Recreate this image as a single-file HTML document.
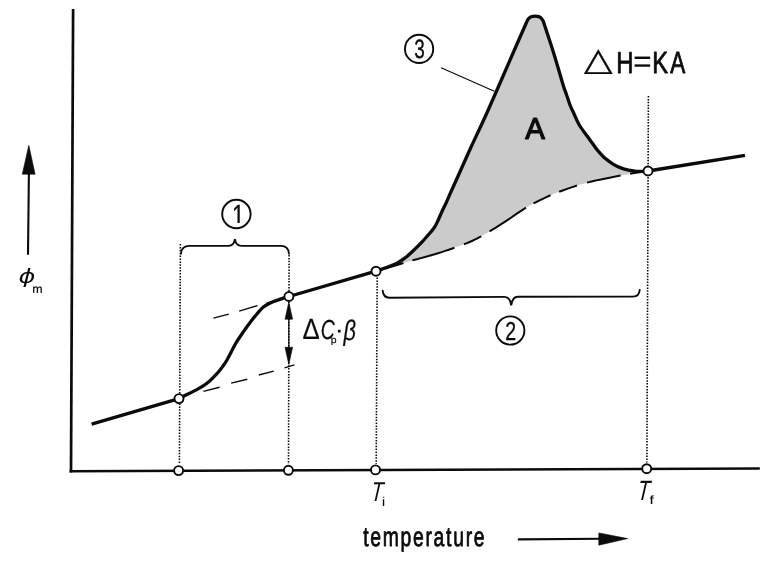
<!DOCTYPE html>
<html lang="en">
<head>
<meta charset="utf-8">
<title>DSC curve</title>
<style>
html,body{margin:0;padding:0;background:#fff;}
body{width:779px;height:564px;overflow:hidden;}
svg{display:block;}
text{font-family:"Liberation Sans",sans-serif;fill:#0b0b0b;text-rendering:geometricPrecision;}
</style>
</head>
<body>
<svg width="779" height="564" viewBox="0 0 779 564">
<rect width="779" height="564" fill="#fff"/>

<!-- shaded peak area -->
<path d="M376,271.2 C377.1,270.8 379.1,270.2 382.6,268.9 C386.1,267.6 393.1,265.1 397.0,263.2 C400.9,261.2 403.1,259.4 406.0,257.2 C408.9,255.0 411.6,252.3 414.2,249.8 C416.8,247.3 419.3,244.8 421.6,242.4 C423.9,240.0 425.9,237.6 428.0,235.2 C430.1,232.8 432.3,230.4 434.0,228.0 C435.7,225.6 436.6,223.4 438.0,220.5 C439.4,217.6 440.8,214.0 442.3,210.8 C443.8,207.6 445.3,204.7 446.8,201.3 C448.3,197.9 449.9,194.1 451.5,190.5 C453.1,186.9 453.2,187.0 456.3,180.0 C459.4,173.0 465.1,160.2 470.4,148.5 C475.7,136.8 480.9,126.4 488.2,110.0 C495.5,93.6 507.9,64.8 514.4,50.0 C520.8,35.2 525.0,25.8 527.1,21.0 C527.4,20.6 527.9,19.3 528.6,18.6 C529.3,17.9 530.2,17.1 531.3,16.7 C532.4,16.3 533.8,16.2 535.0,16.2 C536.2,16.2 537.6,16.2 538.7,16.6 C539.8,17.0 540.6,17.6 541.4,18.3 C542.1,19.0 542.9,20.6 543.2,21.0 C544.5,25.0 548.6,37.4 551.1,45.1 C553.6,52.8 556.0,60.8 558.0,67.4 C560.0,74.1 561.7,80.4 563.1,85.0 C564.5,89.6 565.5,91.7 566.6,95.0 C567.8,98.3 568.8,101.9 570.0,105.0 C571.2,108.1 572.4,110.2 573.9,113.5 C575.4,116.8 577.1,121.2 579.3,125.0 C581.5,128.8 584.9,133.0 587.3,136.3 C589.7,139.6 591.8,142.4 593.5,144.8 C595.2,147.2 595.8,148.3 597.8,150.6 C599.8,152.9 602.8,156.3 605.4,158.6 C608.0,160.8 610.5,162.5 613.1,164.1 C615.7,165.7 618.2,166.9 620.8,167.9 C623.4,168.9 625.9,169.6 628.5,170.2 C631.1,170.8 633.8,171.1 636.2,171.3 C638.6,171.5 641.0,171.5 643.0,171.4 C645.0,171.3 647.2,171.1 648.0,171.0 C644.4,171.6 636.4,172.6 626.4,174.5 C616.4,176.4 599.4,179.4 587.9,182.4 C576.4,185.4 566.1,189.1 557.1,192.6 C548.1,196.1 540.2,200.0 534.0,203.2 C527.8,206.3 524.5,208.6 520.0,211.5 C515.5,214.4 512.4,216.9 507.0,220.4 C501.6,223.9 493.5,229.2 487.8,232.5 C482.1,235.8 478.1,238.1 473.0,240.5 C467.9,242.9 463.5,244.5 457.0,246.8 C450.5,249.1 441.4,252.2 434.0,254.5 C426.6,256.8 417.8,258.9 412.7,260.3 C407.6,261.8 408.1,261.7 403.1,263.2 C398.1,264.7 387.1,268.0 382.6,269.3 C378.1,270.6 377.1,270.9 376.0,271.2Z" fill="#cbcbcb" stroke="none"/>

<!-- dotted verticals -->
<g stroke="#0b0b0b" stroke-width="1.6" stroke-dasharray="1.5 1.4" fill="none">
<line x1="180.4" y1="244" x2="179.4" y2="464.6"/>
<line x1="289.1" y1="255" x2="288.5" y2="464"/>
<line x1="377.2" y1="277.5" x2="376.2" y2="463.8"/>
<line x1="648.4" y1="96" x2="646.9" y2="462.6"/>
</g>

<!-- axes -->
<g stroke="#0b0b0b" fill="none" stroke-linecap="butt">
<line x1="73.1" y1="9.1" x2="71" y2="472.6" stroke-width="2.7"/>
<line x1="69.6" y1="471.3" x2="759.8" y2="468.5" stroke-width="2.4"/>
</g>

<!-- thin dashed tangents at step -->
<g stroke="#0b0b0b" stroke-width="1.4" fill="none">
<path d="M213.4,318.1 L228.8,314.1 M239.2,311.1 L257.5,305.6 M266,303.4 L273.8,301.3"/>
<path d="M203.4,391.4 L219.6,387.2 M231.1,383.1 L247.3,379.2 M258.8,375 L273.8,371.1 M284.5,367.8 L294.5,364.9"/>
</g>

<!-- baseline dashed under peak -->
<path d="M384.6,268.7 L387.5,267.8 L390.9,266.8 L394.4,265.8 L397.9,264.8 L401.0,263.8 L403.5,263.1 M412.3,260.4 L414.8,259.7 L417.7,259.0 L420.8,258.1 L424.2,257.2 L427.7,256.3 L431.2,255.3 L434.6,254.3 L438.0,253.2 L441.6,252.1 L445.2,250.9 L448.8,249.7 L452.3,248.5 L454.4,247.7 M464.0,244.3 L466.3,243.4 L468.5,242.5 L470.7,241.5 L473.0,240.5 L475.2,239.4 L477.4,238.4 L479.5,237.2 L481.3,236.3 M489.6,231.4 L492.4,229.7 L495.5,227.8 L498.5,225.9 L501.6,223.9 L504.4,222.1 L507.0,220.4 L509.3,218.9 L511.3,217.5 L513.2,216.1 L515.0,214.9 L516.8,213.6 L518.7,212.4 L520.7,211.1 L522.6,209.8 L524.5,208.6 L526.0,207.7 M533.5,203.4 L536.4,202.0 L539.5,200.4 L542.8,198.8 L546.3,197.2 L549.9,195.5 L550.6,195.3 M559.1,191.8 L563.4,190.2 L567.7,188.6 L572.3,187.1 L577.0,185.5 M587.0,182.6 L592.5,181.3 L598.4,179.9 L604.6,178.7 L610.8,177.4 L616.8,176.3 L620.6,175.6 M630.1,173.8 L634.2,173.1 L637.9,172.5 L641.2,172.0 L643.2,171.7" fill="none" stroke="#0b0b0b" stroke-width="2"/>

<!-- main curve -->
<path d="M91.6,424.2 L179,398.6 C180.0,398.1 182.4,396.9 185.0,395.6 C187.6,394.3 191.5,392.4 194.3,390.9 C197.1,389.4 199.4,388.4 202.0,386.7 C204.6,385.0 207.1,383.1 209.7,380.9 C212.3,378.6 215.2,375.6 217.4,373.2 C219.6,370.8 221.2,368.5 222.8,366.3 C224.4,364.1 224.8,363.8 227.0,360.0 C229.2,356.2 233.1,348.0 235.8,343.3 C238.6,338.6 240.8,335.5 243.5,331.6 C246.2,327.7 250.0,322.6 252.0,320.0 C254.0,317.4 253.6,317.9 255.4,315.8 C257.2,313.7 260.5,309.5 263.1,307.3 C265.7,305.1 268.2,303.9 270.8,302.7 C273.4,301.5 276.3,300.7 278.5,299.9 C280.7,299.1 282.2,298.5 283.9,297.9 C285.6,297.3 288.1,296.7 288.9,296.5 L376,271.2 C377.1,270.8 379.1,270.2 382.6,268.9 C386.1,267.6 393.1,265.1 397.0,263.2 C400.9,261.2 403.1,259.4 406.0,257.2 C408.9,255.0 411.6,252.3 414.2,249.8 C416.8,247.3 419.3,244.8 421.6,242.4 C423.9,240.0 425.9,237.6 428.0,235.2 C430.1,232.8 432.3,230.4 434.0,228.0 C435.7,225.6 436.6,223.4 438.0,220.5 C439.4,217.6 440.8,214.0 442.3,210.8 C443.8,207.6 445.3,204.7 446.8,201.3 C448.3,197.9 449.9,194.1 451.5,190.5 C453.1,186.9 453.2,187.0 456.3,180.0 C459.4,173.0 465.1,160.2 470.4,148.5 C475.7,136.8 480.9,126.4 488.2,110.0 C495.5,93.6 507.9,64.8 514.4,50.0 C520.8,35.2 525.0,25.8 527.1,21.0 C527.4,20.6 527.9,19.3 528.6,18.6 C529.3,17.9 530.2,17.1 531.3,16.7 C532.4,16.3 533.8,16.2 535.0,16.2 C536.2,16.2 537.6,16.2 538.7,16.6 C539.8,17.0 540.6,17.6 541.4,18.3 C542.1,19.0 542.9,20.6 543.2,21.0 C544.5,25.0 548.6,37.4 551.1,45.1 C553.6,52.8 556.0,60.8 558.0,67.4 C560.0,74.1 561.7,80.4 563.1,85.0 C564.5,89.6 565.5,91.7 566.6,95.0 C567.8,98.3 568.8,101.9 570.0,105.0 C571.2,108.1 572.4,110.2 573.9,113.5 C575.4,116.8 577.1,121.2 579.3,125.0 C581.5,128.8 584.9,133.0 587.3,136.3 C589.7,139.6 591.8,142.4 593.5,144.8 C595.2,147.2 595.8,148.3 597.8,150.6 C599.8,152.9 602.8,156.3 605.4,158.6 C608.0,160.8 610.5,162.5 613.1,164.1 C615.7,165.7 618.2,166.9 620.8,167.9 C623.4,168.9 625.9,169.6 628.5,170.2 C631.1,170.8 633.8,171.1 636.2,171.3 C638.6,171.5 641.0,171.5 643.0,171.4 C645.0,171.3 647.2,171.1 648.0,171.0 L745,155.3" fill="none" stroke="#0b0b0b" stroke-width="3.3" stroke-linejoin="round" stroke-linecap="butt"/>

<!-- open circles -->
<g fill="#fff" stroke="#0b0b0b" stroke-width="1.9">
<circle cx="179" cy="398.6" r="4.5"/>
<circle cx="288.9" cy="296.5" r="4.5"/>
<circle cx="376" cy="271.2" r="4.5"/>
<circle cx="648" cy="171" r="4.5"/>
<circle cx="178.6" cy="470.6" r="4.5"/>
<circle cx="288.4" cy="470.3" r="4.5"/>
<circle cx="375.5" cy="469.9" r="4.5"/>
<circle cx="646.7" cy="468.7" r="4.5"/>
</g>

<!-- braces -->
<g fill="none" stroke="#0b0b0b" stroke-width="1.9" stroke-linecap="round">
<path d="M181,253.6 C181.3,248.6 184,246 189.5,245.9 L228.5,245.9 C232.5,245.9 234.2,243.5 234.9,239.2 C235.6,243.5 237.3,245.9 241.3,245.9 L281,245.9 C286,246 288.6,248.6 288.9,253.6"/>
<path d="M382.7,290.6 C383,295 385.5,297.6 389.5,297.7 L504.5,296.9 C508.5,296.9 510.4,299.8 511.2,305.3 C512,299.8 513.9,296.8 517.9,296.8 L633,296.6 C637.2,296.5 639.4,294.3 639.7,290"/>
</g>

<!-- numbered circles -->
<g fill="none" stroke="#0b0b0b" stroke-width="1.9">
<circle cx="236.4" cy="214" r="14.2"/>
<circle cx="510.3" cy="330.5" r="14.1"/>
<circle cx="419.1" cy="48.9" r="14.1"/>
</g>
<line x1="441.1" y1="67.8" x2="494.3" y2="91.2" stroke="#0b0b0b" stroke-width="1.2"/>

<!-- delta Cp beta arrow -->
<g stroke="#0b0b0b" fill="#0b0b0b">
<line x1="288.8" y1="316" x2="288.8" y2="350" stroke-width="1.2"/>
<path d="M288.8,302 L292.6,319.2 L285,319.2 Z" stroke-width="0.6" stroke-linejoin="round"/>
<path d="M288.8,364.4 L292.6,347.3 L285,347.3 Z" stroke-width="0.6" stroke-linejoin="round"/>
</g>

<!-- y-axis arrow -->
<g stroke="#0b0b0b" fill="#0b0b0b">
<line x1="28.9" y1="172" x2="28" y2="254.8" stroke-width="2.1"/>
<path d="M28.8,145.3 L35.1,174.2 L22.3,174.2 Z" stroke-width="0.6" stroke-linejoin="round"/>
</g>
<!-- x-axis arrow -->
<g stroke="#0b0b0b" fill="#0b0b0b">
<line x1="517.9" y1="539.4" x2="602" y2="538.8" stroke-width="2.1"/>
<path d="M627.7,538.6 L598.8,545.2 L598.8,532.9 Z" stroke-width="0.6" stroke-linejoin="round"/>
</g>


<!-- labels -->
<text transform="translate(18.45,283.20) scale(0.2566,0.1974)" font-size="100" style='font-style:italic;font-family:"DejaVu Sans","Liberation Sans",sans-serif;'>ϕ</text><text transform="translate(32.26,293.10) scale(0.1243,0.1191)" font-size="100" stroke="#0b0b0b" stroke-width="1.64" stroke-linejoin="round">m</text>
<clipPath id="nofoot" clipPathUnits="userSpaceOnUse"><rect x="-5" y="-80" width="70" height="69"/></clipPath><text transform="translate(231.9,226.4) scale(0.2245,0.3055)" font-size="100" stroke="#0b0b0b" stroke-width="1.2" clip-path="url(#nofoot)">1</text>
<text transform="translate(505.17,339.65) scale(0.1956,0.2595)" font-size="100" stroke="#0b0b0b" stroke-width="1.33" stroke-linejoin="round">2</text>
<text transform="translate(414.14,58.49) scale(0.1895,0.2643)" font-size="100" stroke="#0b0b0b" stroke-width="1.34" stroke-linejoin="round">3</text>
<text transform="translate(302.43,339.40) scale(0.2576,0.2924)" font-size="100" stroke="#0b0b0b" stroke-width="0.73" stroke-linejoin="round">Δ</text><text transform="translate(320.84,338.72) scale(0.1933,0.2756)" font-size="100" style='font-style:italic;' stroke="#0b0b0b" stroke-width="0.87" stroke-linejoin="round">C</text><text transform="translate(330.72,343.19) scale(0.1044,0.0966)" font-size="100" stroke="#0b0b0b" stroke-width="1.99" stroke-linejoin="round">p</text><text transform="translate(334.53,337.56) scale(0.2872,0.2512)" font-size="100">·</text><text transform="translate(343.45,339.90) scale(0.2183,0.2842)" font-size="100" style='font-style:italic;' stroke="#0b0b0b" stroke-width="0.80" stroke-linejoin="round">β</text>
<text transform="translate(370.56,500.70) scale(0.1966,0.2749) skewX(-7)" font-size="100" style='font-style:italic;'>T</text><text transform="translate(381.72,505.70) scale(0.1600,0.1283)" font-size="100">i</text>
<text transform="translate(636.90,499.80) scale(0.2000,0.2793) skewX(-7)" font-size="100" style='font-style:italic;'>T</text><text transform="translate(649.70,503.70) scale(0.1358,0.1190)" font-size="100" stroke="#0b0b0b" stroke-width="1.57" stroke-linejoin="round">f</text>
<text transform="translate(363.16,546.44) scale(0.1929,0.2702)" font-size="100" letter-spacing="9.0" stroke="#0b0b0b" stroke-width="3.07" stroke-linejoin="round">temperature</text>
<text transform="translate(525.28,139.30) scale(0.2951,0.3040)" font-size="100" stroke="#0b0b0b" stroke-width="4.01" stroke-linejoin="round">A</text>
<text transform="translate(584.01,69.80) scale(0.3711,0.3187)" font-size="100" style='font-family:"DejaVu Sans","Liberation Sans",sans-serif;' stroke="#0b0b0b" stroke-width="1.16" stroke-linejoin="round">△</text><text transform="translate(616.28,72.75) scale(0.2386,0.3025)" font-size="100" stroke="#0b0b0b" stroke-width="2.61" stroke-linejoin="round">H</text><text transform="translate(633.13,72.25) scale(0.3134,0.3132)" font-size="100" stroke="#0b0b0b" stroke-width="0.64" stroke-linejoin="round">=</text><text transform="translate(652.19,72.75) scale(0.2376,0.3055)" font-size="100" stroke="#0b0b0b" stroke-width="2.60" stroke-linejoin="round">K</text><text transform="translate(670.19,72.75) scale(0.2249,0.3055)" font-size="100" stroke="#0b0b0b" stroke-width="2.67" stroke-linejoin="round">A</text>
</svg>
</body>
</html>
